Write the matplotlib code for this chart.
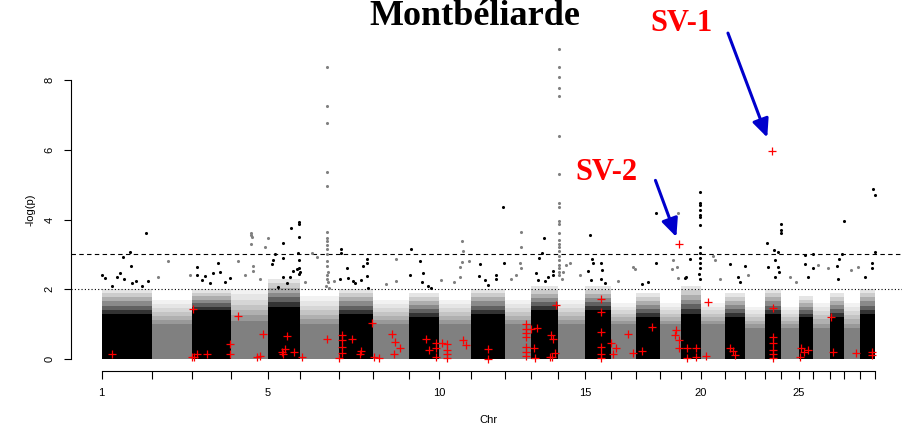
import matplotlib
matplotlib.use('Agg')
import matplotlib.pyplot as plt
import numpy as np

# chromosome lengths (Mb) as spaced on the x axis
chr_len = [163, 128, 125, 120, 105, 124, 110, 115, 99, 103, 108, 84, 89, 86, 84,
           80, 79, 66, 65, 76, 66, 63, 53, 58, 45, 56, 45, 49, 49]
# bulk of the SNP cloud per chromosome: top of the solid part / top of the sparse part
solid_top = [1.3, 1.0, 1.4, 1.1, 1.5, 1.0, 1.3, 1.0, 1.2, 1.0, 1.3, 1.0, 1.4, 1.0, 1.4,
             1.0, 1.2, 1.0, 1.3, 1.0, 1.2, 0.9, 1.3, 0.9, 1.2, 0.9, 1.2, 0.9, 1.3]
cloud_top = [2.0, 1.7, 2.0, 2.0, 2.3, 1.8, 2.0, 1.7, 1.9, 1.7, 2.0, 1.7, 2.1, 1.7, 2.1,
             1.6, 1.9, 1.6, 2.1, 1.6, 1.9, 1.5, 2.0, 1.5, 1.8, 1.6, 1.9, 1.6, 2.0]

# SNPs standing out above the cloud: chromosome, position (Mb), -log(p)
hits = {
    1: [(143, 3.62), (92, 3.07), (69, 2.92), (94, 2.68), (1, 2.40), (59, 2.48), (149, 2.25),
        (11, 2.32), (48, 2.36), (73, 2.29), (97, 2.17), (111, 2.24), (129, 2.09), (32, 2.09)],
    2: [(50, 2.80), (17, 2.35), (121, 2.42)],
    3: [(15, 2.64), (84, 2.74), (67, 2.47), (42, 2.39), (90, 2.50), (31, 2.27), (58, 2.19),
        (106, 2.22), (122, 2.31), (15, 2.40)],
    4: [(67, 3.62), (67, 3.55), (68, 3.50), (67, 3.29), (119, 3.48), (110, 3.20), (23, 2.80),
        (71, 2.67), (71, 2.53), (46, 2.40), (94, 2.30)],
    5: [(73, 3.77), (100, 3.94), (100, 3.87), (100, 3.49), (49, 3.34), (96, 3.03), (24, 3.01),
        (49, 2.90), (16, 2.84), (12, 2.72), (49, 2.36), (71, 2.34), (95, 2.57), (102, 2.50),
        (81, 2.53), (33, 2.06), (60, 2.17), (99, 2.84), (99, 2.60), (99, 2.43)],
    6: [(87, 8.36), (87, 7.26), (87, 6.78), (87, 5.35), (87, 4.96), (87, 3.65), (87, 3.47),
        (87, 3.38), (87, 3.27), (87, 3.15), (87, 3.00), (87, 2.82), (85, 2.67), (88, 2.50),
        (86, 2.41), (38, 3.04), (52, 2.93), (108, 2.24), (14, 2.20), (84, 2.30), (90, 2.20),
        (82, 2.10), (92, 2.05)],
    7: [(8, 3.16), (8, 3.03), (26, 2.62), (78, 2.68), (89, 2.86), (92, 2.74), (89, 2.38),
        (5, 2.29), (45, 2.25), (29, 2.33), (51, 2.17), (72, 2.27), (94, 2.03)],
    8: [(74, 2.87), (74, 2.23), (41, 2.15)],
    9: [(8, 3.14), (35, 2.81), (46, 2.48), (44, 2.22), (4, 2.41), (62, 2.10), (73, 2.05)],
    10: [(72, 3.39), (77, 3.10), (72, 2.77), (68, 2.65), (95, 2.81), (65, 2.36), (47, 2.22),
         (6, 2.27)],
    11: [(102, 4.35), (27, 2.72), (25, 2.38), (81, 2.41), (79, 2.29), (107, 2.76), (54, 2.12),
         (43, 2.27)],
    12: [(51, 3.63), (51, 3.21), (48, 2.74), (51, 2.60), (21, 2.29), (37, 2.41)],
    13: [(43, 3.48), (37, 3.04), (25, 2.91), (71, 2.52), (18, 2.47), (23, 2.27), (55, 2.36),
         (71, 2.41), (45, 2.24)],
    14: [(2, 8.90), (2, 8.37), (2, 8.08), (2, 7.76), (2, 7.54), (2, 6.39), (2, 5.30), (2, 4.46),
         (2, 4.35), (2, 3.95), (2, 3.87), (2, 3.60), (2, 3.40), (2, 3.30), (2, 3.20), (2, 3.10),
         (2, 2.95), (2, 2.85), (2, 2.70), (2, 2.60), (2, 2.50), (2, 2.40), (23, 2.70),
         (15, 2.50), (11, 2.29), (36, 2.74), (68, 2.41)],
    15: [(17, 3.56), (22, 2.86), (25, 2.74), (9, 2.52), (18, 2.27), (52, 2.74), (54, 2.55),
         (50, 2.29), (63, 2.17)],
    16: [(71, 2.65), (76, 2.57), (22, 2.25)],
    17: [(64, 4.18), (66, 2.74), (18, 2.15), (38, 2.20)],
    18: [(57, 4.20), (41, 2.84), (36, 2.57), (52, 2.63), (57, 2.31)],
    19: [(61, 4.80), (62, 4.48), (62, 4.42), (62, 4.27), (61, 4.13), (61, 4.08), (61, 3.84),
         (62, 3.20), (61, 3.03), (60, 2.90), (61, 2.75), (60, 2.60), (59, 2.45), (60, 2.30),
         (29, 2.86), (16, 2.36), (13, 2.31)],
    20: [(39, 2.95), (44, 2.84), (60, 2.30)],
    21: [(16, 2.72), (43, 2.36), (48, 2.22), (65, 2.67)],
    22: [(9, 2.40)],
    23: [(6, 3.34), (30, 3.13), (43, 3.08), (52, 3.86), (52, 3.70), (52, 3.60), (35, 2.84),
         (43, 2.63), (46, 2.50), (11, 2.63), (33, 2.36)],
    24: [(28, 2.35), (47, 2.20)],
    25: [(18, 2.98), (18, 2.72), (44, 3.00), (44, 2.60), (28, 2.35)],
    26: [(16, 2.70), (48, 2.60)],
    27: [(45, 3.97), (21, 2.67), (39, 3.01), (25, 2.29), (28, 2.86)],
    28: [(23, 2.55), (44, 2.65)],
    29: [(42, 4.87), (49, 4.70), (49, 3.08), (39, 2.74), (39, 2.60), (17, 2.36)],
}

# structural variants (red crosses): chromosome, position (Mb), -log(p)
sv = {
    1: [(32, 0.13)],
    3: [(4, 1.42), (1, 0.05), (8, 0.07), (15, 0.14), (47, 0.14), (124, 0.43), (124, 0.13)],
    4: [(22, 1.24), (85, 0.07), (96, 0.10), (105, 0.71)],
    5: [(60, 0.65), (44, 0.21), (49, 0.14), (54, 0.29), (84, 0.21)],
    6: [(6, 0.07), (84, 0.56)],
    7: [(1, 0.02), (11, 0.69), (11, 0.54), (11, 0.35), (11, 0.18), (43, 0.56), (70, 0.24),
        (69, 0.14), (108, 1.02)],
    8: [(3, 0.06), (20, 0.03), (60, 0.72), (72, 0.49), (86, 0.31), (67, 0.14)],
    9: [(57, 0.56), (66, 0.26), (87, 0.45), (87, 0.31), (89, 0.06)],
    10: [(7, 0.46), (25, 0.42), (25, 0.25), (25, 0.14), (25, 0.02), (76, 0.55), (85, 0.40)],
    11: [(54, 0.30), (54, 0.01)],
    12: [(69, 1.00), (69, 0.87), (69, 0.75), (69, 0.64), (69, 0.35), (69, 0.21), (69, 0.10)],
    13: [(2, 0.86), (20, 0.90), (11, 0.31), (12, 0.04), (65, 0.70), (73, 0.56), (61, 0.07),
         (67, 0.07), (78, 0.17), (82, 1.55)],
    15: [(52, 1.71), (52, 1.35), (50, 0.78), (50, 0.35), (50, 0.14), (50, 0.02)],
    16: [(1, 0.46), (17, 0.31), (6, 0.15), (55, 0.71), (71, 0.18)],
    17: [(18, 0.22), (52, 0.92)],
    18: [(50, 0.82), (48, 0.68), (61, 0.55), (61, 0.31), (60, 3.29)],
    19: [(18, 0.31), (19, 0.03), (50, 0.31), (49, 0.07)],
    20: [(15, 0.09), (23, 1.64)],
    21: [(16, 0.32), (26, 0.22), (32, 0.12)],
    23: [(25, 5.96), (28, 1.45), (28, 0.64), (28, 0.45), (28, 0.26), (28, 0.13), (28, 0.02)],
    25: [(7, 0.31), (16, 0.21), (29, 0.26), (3, 0.05)],
    27: [(3, 1.21), (7, 0.20)],
    28: [(38, 0.18)],
    29: [(39, 0.21), (41, 0.11)],
}
labelled = {'SV-1': (23, 25, 5.96), 'SV-2': (18, 60, 3.29)}
x_labels = {1: '1', 5: '5', 10: '10', 15: '15', 20: '20', 25: '25'}

starts = np.concatenate([[0], np.cumsum(chr_len)[:-1]])
total = sum(chr_len)
cols = ['black' if (i % 2 == 0) else '#808080' for i in range(len(chr_len))]

plt.rcParams['font.family'] = ['Liberation Sans', 'DejaVu Sans']
fig = plt.figure(figsize=(9.02, 4.30), dpi=100)
ax = fig.add_axes([70.5 / 902, 1 - 370.7 / 430, (902 - 70.5) / 902, (370.7 - 31.2) / 430])

# dense part of the cloud, then a thinning part above it
fade = [0.8, 0.62, 0.46, 0.32, 0.2, 0.1]
for i in range(len(chr_len)):
    ax.bar(starts[i], solid_top[i], width=chr_len[i], align='edge', color=cols[i], lw=0)
    step = (cloud_top[i] - solid_top[i]) / len(fade)
    for k, a in enumerate(fade):
        ax.bar(starts[i], step, bottom=solid_top[i] + k * step, width=chr_len[i],
               align='edge', color=cols[i], alpha=a, lw=0)

for c, pts in hits.items():
    pts = np.array(pts, dtype=float)
    ax.scatter(starts[c - 1] + pts[:, 0], pts[:, 1], s=5, color=cols[c - 1], lw=0, zorder=3)

for c, pts in sv.items():
    pts = np.array(pts, dtype=float)
    ax.scatter(starts[c - 1] + pts[:, 0], pts[:, 1], s=32, marker='+', color='red',
               linewidths=0.9, zorder=4)

ax.axhline(3, color='black', lw=0.8, ls=(0, (4, 3)), zorder=2)
ax.axhline(2, color='black', lw=0.8, ls=(0, (1, 2)), zorder=2)

ax.set_xlim(-(101.7 - 70.5) * 3.225, (902 - 101.7) * 3.225)
ax.set_ylim(-(370.7 - 359) / 34.875, (359 - 31.2) / 34.875)

for s in ['top', 'right']:
    ax.spines[s].set_visible(False)
ax.spines['left'].set_bounds(0, 8)
ax.spines['bottom'].set_bounds(0, total)
ax.spines['left'].set_linewidth(0.8)
ax.spines['bottom'].set_linewidth(0.8)

ticks = list(starts) + [total]
ax.set_xticks(ticks)
ax.set_xticklabels([x_labels.get(i + 1, '') for i in range(len(ticks))])
ax.set_yticks([0, 2, 4, 6, 8])
ax.set_yticklabels(['0', '2', '4', '6', '8'], rotation=90, va='center')
ax.tick_params(length=5.4, width=0.8, labelsize=8, pad=7)
ax.tick_params(axis='y', pad=6)

fig.text(488 / 902, 1 - 420 / 430, 'Chr', ha='center', va='center', fontsize=8)
fig.text(31 / 902, 1 - 210 / 430, '-log(p)', ha='center', va='center', rotation=90, fontsize=8)
fig.text(475 / 902, 1 - 25 / 430, 'Montbéliarde', ha='center', va='baseline',
         family='Liberation Serif', weight='bold', fontsize=26)

# labelled structural variants with arrows
text_pos = {'SV-1': (681.5, 31), 'SV-2': (606.5, 180)}
arrow_off = {'SV-1': (-32, 85, 10.5), 'SV-2': (-17, 46, 5.6)}
for name, (c, pos, lp) in labelled.items():
    tx, ty = text_pos[name]
    fig.text(tx / 902, 1 - ty / 430, name, ha='center', va='baseline', color='red',
             family='Liberation Serif', weight='bold', fontsize=22)
    dx, dy, shr = arrow_off[name]
    ax.annotate('', xy=(starts[c - 1] + pos, lp), xycoords='data',
                xytext=(dx, dy), textcoords='offset points',
                arrowprops=dict(arrowstyle='-|>,head_length=0.55,head_width=0.25',
                                color='#0000CC', lw=2.2, mutation_scale=20,
                                shrinkA=0, shrinkB=shr))

fig.savefig('out.png', dpi=100)
